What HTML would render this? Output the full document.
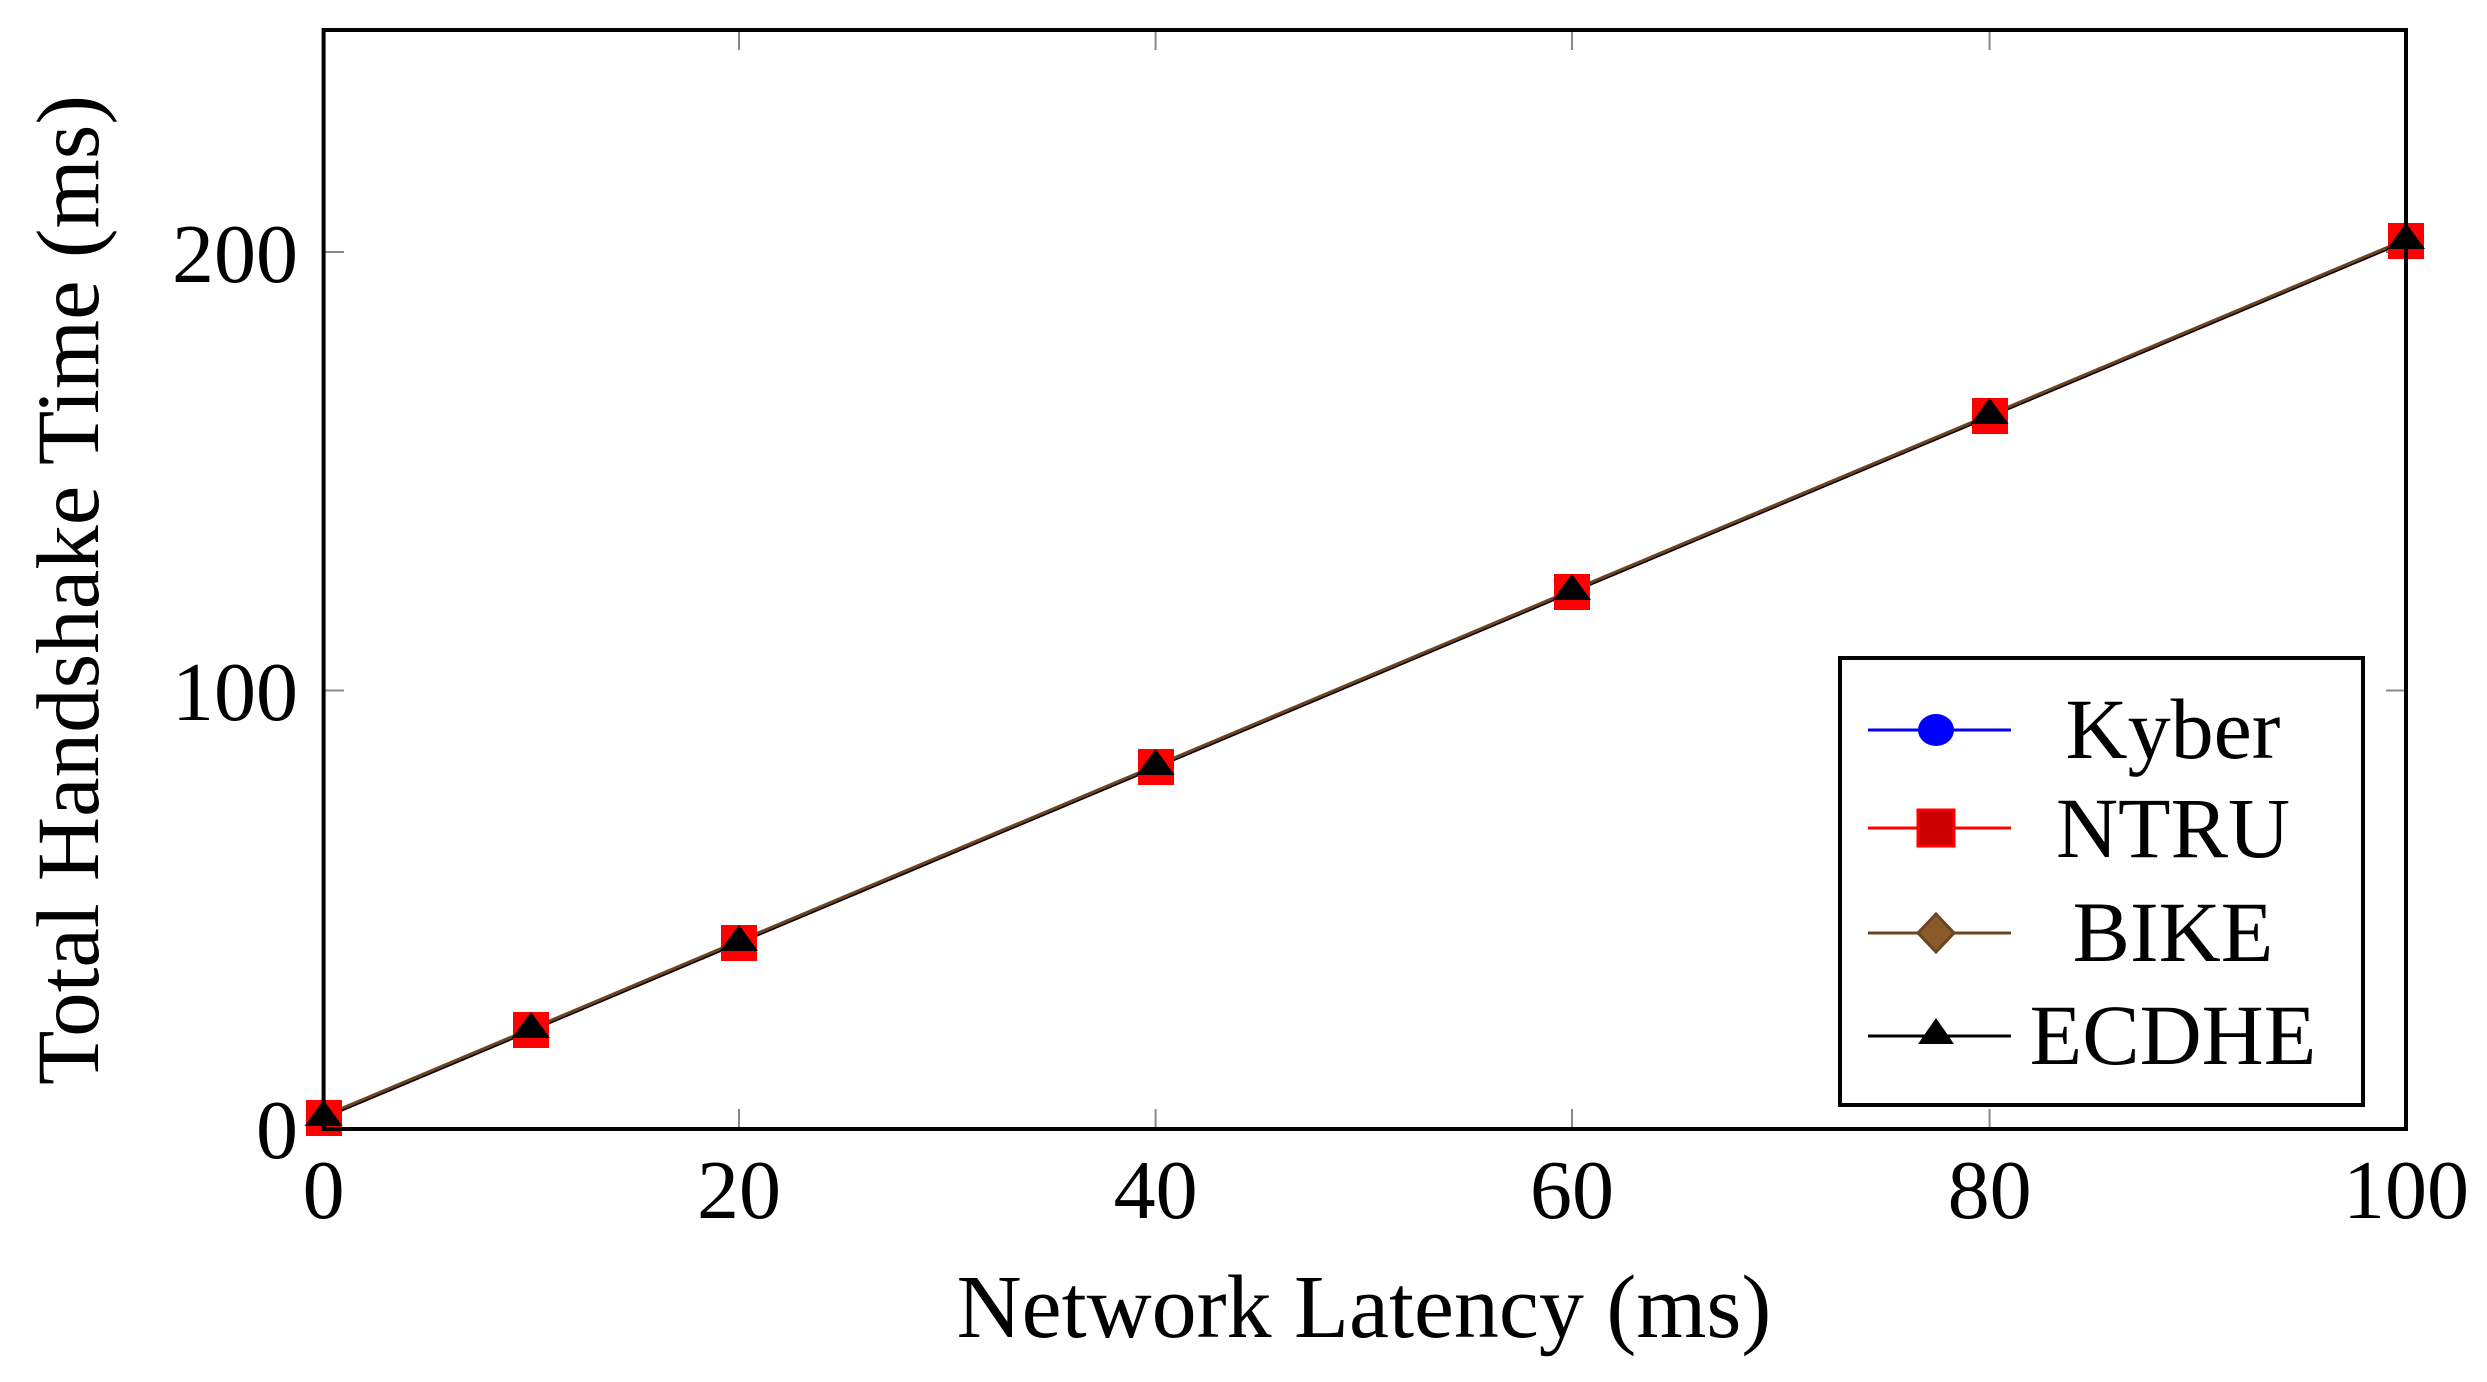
<!DOCTYPE html>
<html><head><meta charset="utf-8"><style>html,body{margin:0;padding:0;background:#fff}svg{display:block}</style></head>
<body>
<svg width="2487" height="1382" viewBox="0 0 2487 1382" xmlns="http://www.w3.org/2000/svg" font-family="'Liberation Serif', serif">
<rect width="2487" height="1382" fill="#fff"/>
<g stroke="#888" stroke-width="2">
<line x1="323.6" y1="690.5" x2="344" y2="690.5"/><line x1="323.6" y1="252" x2="344" y2="252"/>
<line x1="2406" y1="690.5" x2="2386" y2="690.5"/><line x1="2406" y1="252" x2="2386" y2="252"/>
<line x1="739" y1="1129" x2="739" y2="1109"/><line x1="1155.6" y1="1129" x2="1155.6" y2="1109"/><line x1="1572" y1="1129" x2="1572" y2="1109"/><line x1="1989.6" y1="1129" x2="1989.6" y2="1109"/>
<line x1="739" y1="30" x2="739" y2="50"/><line x1="1155.6" y1="30" x2="1155.6" y2="50"/><line x1="1572" y1="30" x2="1572" y2="50"/><line x1="1989.6" y1="30" x2="1989.6" y2="50"/>
</g>
<g font-size="84" fill="#000">
<text x="298" y="1158" text-anchor="end">0</text>
<text x="298" y="720" text-anchor="end">100</text>
<text x="298" y="282" text-anchor="end">200</text>
<g text-anchor="middle">
<text x="323.6" y="1218">0</text><text x="739" y="1218">20</text><text x="1155.6" y="1218">40</text><text x="1572" y="1218">60</text><text x="1989.6" y="1218">80</text><text x="2406" y="1218">100</text>
</g>
</g>
<text x="1364" y="1337" font-size="90" text-anchor="middle">Network Latency (ms)</text>
<text transform="translate(98,590) rotate(-90)" font-size="89" text-anchor="middle">Total Handshake Time (ms)</text>
<g fill="none" stroke-width="3">
<polyline stroke="#0000ff" points="323.6,1117.6 531,1030.3 739,942.6 1155.6,767.2 1572,591.8 1989.6,416.4 2406,241"/>
<polyline stroke="#ff0000" points="323.6,1117.6 531,1030.3 739,942.6 1155.6,767.2 1572,591.8 1989.6,416.4 2406,241"/>
<polyline stroke="#000" points="323.6,1117.6 531,1030.3 739,942.6 1155.6,767.2 1572,591.8 1989.6,416.4 2406,241"/>
<polyline stroke="#6b4423" points="323.6,1116 531,1028.8 739,941 1155.6,765.7 1572,590.3 1989.6,414.9 2406,239.5"/>
</g>
<g>
<g fill="#ff0000"><rect x="306" y="1100" width="36" height="36"/><rect x="513" y="1012" width="36" height="36"/><rect x="721" y="925" width="36" height="36"/><rect x="1138" y="749" width="36" height="36"/><rect x="1554" y="574" width="36" height="36"/><rect x="1972" y="398" width="36" height="36"/><rect x="2388" y="223" width="36" height="36"/></g>
<g fill="#000"><path d="M323.6,1100 l19,26 h-38z"/><path d="M531,1012 l19,26 h-38z"/><path d="M739,925 l19,26 h-38z"/><path d="M1155.6,749 l19,26 h-38z"/><path d="M1572,574 l19,26 h-38z"/><path d="M1989.6,398 l19,26 h-38z"/><path d="M2406,223 l19,26 h-38z"/></g>
</g>
<rect x="323.6" y="30" width="2082.4" height="1099" fill="none" stroke="#000" stroke-width="4"/>
<rect x="1840" y="658" width="523" height="447" fill="#fff" stroke="#000" stroke-width="4"/>
<g stroke-width="3">
<line x1="1868" y1="730" x2="2011" y2="730" stroke="#0000ff"/><ellipse cx="1936" cy="730" rx="18" ry="16" fill="#0000ff"/>
<line x1="1868" y1="828" x2="2011" y2="828" stroke="#ff0000"/><rect x="1918" y="810" width="36" height="36" fill="#cc0000" stroke="#ff0000" stroke-width="3"/>
<line x1="1868" y1="933" x2="2011" y2="933" stroke="#6b4423"/><path d="M1936,914 l18,19 l-18,19 l-18,-19z" fill="#8a5a2b" stroke="#6b4423" stroke-width="3"/>
<line x1="1868" y1="1036" x2="2011" y2="1036" stroke="#000"/><path d="M1936,1018 l18,26 h-36z" fill="#000"/>
</g>
<g font-size="86" text-anchor="middle" fill="#000">
<text x="2173" y="758">Kyber</text><text x="2173" y="857">NTRU</text><text x="2173" y="961">BIKE</text><text x="2173" y="1064">ECDHE</text>
</g>
</svg>
</body></html>
